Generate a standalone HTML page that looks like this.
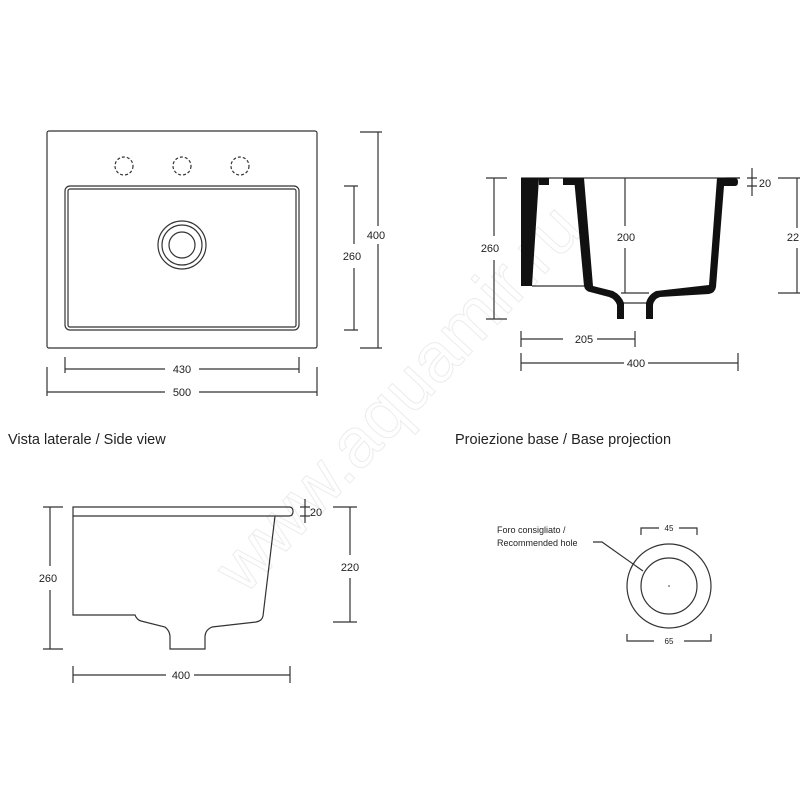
<!DOCTYPE html>
<html><head><style>
html,body{margin:0;padding:0;background:#fff;}
svg{display:block;}
text{font-family:"Liberation Sans",sans-serif;fill:#222;}
</style></head><body>
<svg width="800" height="800" viewBox="0 0 800 800" xmlns="http://www.w3.org/2000/svg">
<text x="400" y="420" font-size="70" text-anchor="middle" style="fill:#fff" transform="rotate(-47 400 400)" stroke="#ececec" stroke-width="1">www.aquamir.ru</text>
<g fill="none" stroke="#333" stroke-width="1.2">
<!-- top view -->
<rect x="47" y="131" width="270" height="217" rx="2"/>
<rect x="65" y="186" width="234" height="144" rx="5"/>
<rect x="68" y="189" width="228" height="138" rx="2"/>
<circle cx="182" cy="245" r="24"/><circle cx="182" cy="245" r="20"/><circle cx="182" cy="245" r="13"/>
<g stroke-dasharray="3,2"><circle cx="124" cy="166" r="9"/><circle cx="182" cy="166" r="9"/><circle cx="240" cy="166" r="9"/></g>
<path d="M378 132V226M378 244V348M360 132H382M360 348H382"/>
<path d="M354 186V244M354 268V330M344 186H358M344 330H358"/>
<path d="M65 369H165M199 369H299M65 357V373M299 357V373"/>
<path d="M47 392H165M199 392H317M47 367V396M317 367V396"/>
<!-- right section -->
<path d="M494 178V236M494 260V319M486 178H507M486 319H507"/>
<path d="M797 178V228M797 248V293M778 178H800M778 293H800"/>
<path d="M752 168V196M747 178H757M747 186H757M726 178H740"/>
<path d="M521 339H563M597 339H635M521 331V347"/>
<path d="M635 331V347"/>
<path d="M521 363H624M648 363H738M521 353V371M738 353V371"/>
<path d="M521 178H740M625 178V226M625 248V293M532 286H587M621 293H649M623 303H647"/>
<!-- side view -->
<path d="M73 507H289Q293 507 293 511.5Q293 516 289 516H73Z"/>
<path d="M73 516V615H135Q137 620 141 621L165 627Q170 631 170 637V649H205V637Q205 630 212 627L256 622Q262 621 263 616L275 516"/>
<path d="M50 507V566M50 590V649M43 507H63M43 649H63"/>
<path d="M350 507V555M350 578V622M333 507H357M333 622H357"/>
<path d="M305 499V523M300 507H310M300 516H310"/>
<path d="M73 675H166M194 675H290M73 666V683M290 666V683"/>
<!-- circles -->
<circle cx="669" cy="586" r="42"/><circle cx="669" cy="586" r="28"/>
<path d="M641 535V528H659M679 528H697V535"/>
<path d="M627 634V641H654M684 641H711V634"/>
<path d="M593 542H602L643 571"/>
</g>
<circle cx="669" cy="586" r="0.8" fill="#333"/>
<!-- black section shapes -->
<g fill="#111">
<path d="M521 178H539L532 286H521Z"/>
<path d="M539 178H549V185H539Z"/><path d="M563 178H577V185H563Z"/>
<path d="M574 178H584L593 286L613 291Q621 295 624 303V319H617V305Q615 299 609 297L590 292Q585 291 584 286Z"/>
<path d="M717 178H735Q738 178 738 182Q738 186 735 186H724L716 287Q715 293 709 294L660 297Q654 299 653 305V319H646V303Q648 295 656 291L709 285Z"/>
</g>
<g font-size="11" text-anchor="middle">
<text x="376" y="239">400</text><text x="352" y="260">260</text>
<text x="182" y="373">430</text><text x="182" y="396">500</text>
<text x="490" y="252">260</text><text x="626" y="241">200</text>
<text x="793" y="241">22</text><text x="765" y="187">20</text>
<text x="584" y="343">205</text><text x="636" y="367">400</text>
<text x="48" y="582">260</text><text x="350" y="571">220</text>
<text x="316" y="516">20</text><text x="181" y="679">400</text>
</g>
<g font-size="8" text-anchor="middle"><text x="669" y="531">45</text><text x="669" y="644">65</text></g>
<g font-size="9"><text x="497" y="533">Foro consigliato /</text><text x="497" y="546">Recommended hole</text></g>
<text x="8" y="444" font-size="14.5">Vista laterale / Side view</text>
<text x="455" y="444" font-size="14.5">Proiezione base / Base projection</text>
</svg>
</body></html>
